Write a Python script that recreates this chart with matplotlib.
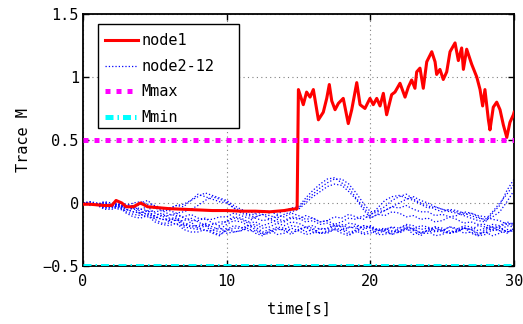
import numpy as np
import matplotlib
matplotlib.use('Agg')
import matplotlib.pyplot as plt
from matplotlib.patches import Rectangle

plt.rcParams['font.family'] = ['DejaVu Sans Mono']
plt.rcParams['font.size'] = 11

# node1 (red)
t_node1 = [0, 0.5, 1, 1.5, 2, 2.3, 2.7, 3.0, 3.5, 4.0, 4.5, 5, 6, 7, 8, 9,
           10, 11, 12, 13, 14, 14.5, 14.9, 14.99,
           15.33, 15.56, 15.80, 16.03, 16.38, 16.72, 16.96, 17.14, 17.31,
           17.54, 17.77, 18.11, 18.46, 18.70, 19.05, 19.28, 19.62, 19.97,
           20.20, 20.44, 20.67, 20.90, 21.13, 21.48, 21.71, 22.06, 22.41,
           22.64, 22.87, 23.10, 23.22, 23.45, 23.68, 23.92, 24.27, 24.50,
           24.61, 24.84, 25.07, 25.31, 25.54, 25.89, 26.12, 26.35, 26.47,
           26.70, 27.05, 27.40, 27.63, 27.81, 27.97, 28.21, 28.32, 28.55,
           28.79, 29.02, 29.25, 29.49, 29.71, 29.95, 30]
m_node1 = [-0.01, -0.01, -0.015, -0.02, -0.02, 0.02, 0.0, -0.03, -0.03, 0.0,
           -0.03, -0.035, -0.045, -0.05, -0.055, -0.06, -0.06, -0.065,
           -0.065, -0.07, -0.06, -0.05, -0.045, 0.90,
           0.78, 0.88, 0.84, 0.90, 0.66, 0.72, 0.83, 0.94, 0.81,
           0.74, 0.79, 0.83, 0.63, 0.74, 0.955, 0.78, 0.75, 0.83,
           0.78, 0.83, 0.77, 0.87, 0.70, 0.86, 0.88, 0.95, 0.84,
           0.92, 0.976, 0.91, 1.04, 1.07, 0.91, 1.12, 1.20, 1.12,
           1.02, 1.06, 0.98, 1.04, 1.20, 1.27, 1.13, 1.23, 1.06,
           1.22, 1.10, 1.00, 0.90, 0.77, 0.90, 0.66, 0.58, 0.76,
           0.80, 0.74, 0.62, 0.52, 0.64, 0.70, 0.72]

# node2-12 (blue), sampled every 0.5 s
t_nodes = np.arange(0, 30.5, 0.5)
m_node2 = [0, 0.0, -0.02, -0.04, -0.04, -0.02, -0.07, -0.09, -0.10, -0.08,
           -0.13, -0.16, -0.16, -0.13, -0.19, -0.20, -0.21, -0.18, -0.23, -0.25,
           -0.22, -0.20, -0.20, -0.18, -0.21, -0.24, -0.23, -0.20, -0.22, -0.25,
           -0.21, -0.19, -0.23, -0.24, -0.22, -0.20, -0.21, -0.25, -0.23, -0.18,
           -0.20, -0.24, -0.22, -0.19, -0.24, -0.21, -0.22, -0.26, -0.21, -0.19,
           -0.23, -0.24, -0.22, -0.20, -0.21, -0.25, -0.23, -0.19, -0.22, -0.24,
           -0.20]
m_node3 = [0, -0.02, -0.01, 0.0, -0.03, -0.05, -0.06, -0.04, -0.09, -0.11,
           -0.12, -0.10, -0.15, -0.17, -0.18, -0.15, -0.20, -0.22, -0.22, -0.19,
           -0.24, -0.23, -0.22, -0.18, -0.19, -0.23, -0.21, -0.25, -0.24, -0.20,
           -0.22, -0.19, -0.20, -0.24, -0.23, -0.21, -0.24, -0.26, -0.21, -0.18,
           -0.19, -0.22, -0.21, -0.25, -0.23, -0.20, -0.25, -0.23, -0.22, -0.19,
           -0.20, -0.24, -0.22, -0.19, -0.24, -0.26, -0.21, -0.19, -0.19, -0.23,
           -0.21]
m_node4 = [0, -0.01, -0.02, -0.05, -0.05, -0.03, -0.08, -0.11, -0.12, -0.10,
           -0.15, -0.17, -0.18, -0.16, -0.21, -0.23, -0.23, -0.21, -0.24, -0.26,
           -0.21, -0.18, -0.19, -0.22, -0.22, -0.25, -0.24, -0.21, -0.21, -0.18,
           -0.19, -0.23, -0.21, -0.24, -0.24, -0.21, -0.22, -0.19, -0.20, -0.24,
           -0.22, -0.25, -0.25, -0.22, -0.23, -0.20, -0.20, -0.24, -0.22, -0.26,
           -0.25, -0.22, -0.23, -0.20, -0.21, -0.24, -0.23, -0.26, -0.24, -0.21,
           -0.22]
m_node5 = [0, 0.01, -0.01, -0.03, -0.03, -0.01, -0.05, -0.07, -0.08, -0.06,
           -0.11, -0.13, -0.14, -0.12, -0.17, -0.19, -0.19, -0.17, -0.21, -0.23,
           -0.20, -0.23, -0.22, -0.20, -0.24, -0.26, -0.22, -0.19, -0.20, -0.23,
           -0.22, -0.25, -0.24, -0.20, -0.21, -0.18, -0.19, -0.23, -0.22, -0.25,
           -0.24, -0.21, -0.23, -0.25, -0.20, -0.18, -0.21, -0.24, -0.24, -0.20,
           -0.22, -0.19, -0.20, -0.24, -0.23, -0.26, -0.25, -0.21, -0.22, -0.18,
           -0.19]
m_node6 = [0, -0.01, -0.01, 0.01, -0.02, -0.04, -0.04, -0.02, -0.07, -0.09,
           -0.10, -0.08, -0.12, -0.14, -0.14, -0.12, -0.15, -0.18, -0.17, -0.15,
           -0.15, -0.12, -0.13, -0.16, -0.15, -0.18, -0.16, -0.13, -0.14, -0.11,
           -0.12, -0.15, -0.14, -0.17, -0.16, -0.19, -0.17, -0.20, -0.18, -0.21,
           -0.19, -0.22, -0.21, -0.19, -0.20, -0.17, -0.18, -0.21, -0.20, -0.23,
           -0.22, -0.19, -0.21, -0.18, -0.19, -0.22, -0.20, -0.17, -0.18, -0.15,
           -0.17]
m_node7 = [0, 0.0, -0.01, -0.02, -0.02, 0.0, -0.03, -0.05, -0.05, -0.03,
           -0.08, -0.10, -0.10, -0.08, -0.12, -0.14, -0.14, -0.12, -0.16, -0.18,
           -0.14, -0.11, -0.12, -0.15, -0.11, -0.09, -0.13, -0.15, -0.15, -0.12,
           -0.13, -0.10, -0.12, -0.15, -0.14, -0.17, -0.15, -0.12, -0.13, -0.10,
           -0.12, -0.09, -0.10, -0.07, -0.08, -0.11, -0.10, -0.13, -0.12, -0.15,
           -0.14, -0.11, -0.13, -0.16, -0.15, -0.17, -0.17, -0.20, -0.19, -0.16,
           -0.18]
m_node8 = [0, 0.01, 0.0, -0.02, -0.01, 0.01, -0.01, -0.03, 0.0, 0.02,
           -0.03, -0.05, -0.04, -0.02, -0.01, 0.02, 0.05, 0.08, 0.06, 0.04,
           0.02, -0.02, -0.05, -0.07, -0.08, -0.06, -0.07, -0.09, -0.06, -0.04,
           -0.03, 0.04, 0.10, 0.15, 0.19, 0.20, 0.16, 0.12, 0.04, -0.03,
           -0.10, -0.04, 0.02, 0.05, 0.06, 0.04, 0.02, -0.01, -0.04, -0.03,
           -0.05, -0.07, -0.08, -0.10, -0.12, -0.14, -0.15, -0.08, -0.02, 0.10,
           0.19]
m_node9 = [0, -0.01, -0.01, 0.01, 0.0, -0.02, -0.02, 0.0, 0.01, -0.01,
           -0.02, -0.04, -0.05, -0.02, -0.03, 0.02, 0.07, 0.05, 0.03, 0.01,
           0.0, -0.04, -0.06, -0.09, -0.09, -0.07, -0.08, -0.06, -0.07, -0.05,
           -0.04, 0.02, 0.07, 0.12, 0.16, 0.19, 0.19, 0.15, 0.08, 0.0,
           -0.07, -0.06, -0.03, 0.02, 0.05, 0.07, 0.03, 0.0, -0.02, -0.05,
           -0.07, -0.05, -0.06, -0.08, -0.10, -0.12, -0.13, -0.07, 0.0, 0.07,
           0.15]
m_node10 = [0, -0.01, -0.01, -0.03, -0.02, -0.01, -0.02, -0.04, -0.01, -0.03,
            -0.04, -0.06, -0.06, -0.08, -0.07, -0.05, -0.02, 0.02, 0.05, 0.03,
            0.01, -0.04, -0.08, -0.10, -0.11, -0.09, -0.10, -0.12, -0.09, -0.07,
            -0.05, 0.0, 0.05, 0.09, 0.13, 0.15, 0.14, 0.09, 0.03, -0.05,
            -0.12, -0.09, -0.06, -0.03, 0.0, 0.03, 0.05, 0.02, 0.0, -0.03,
            -0.05, -0.06, -0.07, -0.09, -0.08, -0.11, -0.14, -0.11, -0.07, 0.01,
            0.10]
m_node11 = [0, -0.01, -0.01, 0.0, -0.02, -0.03, -0.03, -0.02, -0.05, -0.06,
            -0.07, -0.06, -0.09, -0.10, -0.11, -0.09, -0.12, -0.13, -0.13, -0.11,
            -0.11, -0.08, -0.10, -0.12, -0.12, -0.14, -0.13, -0.10, -0.11, -0.08,
            -0.10, -0.13, -0.12, -0.15, -0.14, -0.11, -0.12, -0.09, -0.11, -0.13,
            -0.09, -0.07, -0.06, -0.03, -0.04, -0.02, -0.05, -0.07, -0.07, -0.10,
            -0.09, -0.11, -0.10, -0.07, -0.08, -0.10, -0.11, -0.13, -0.14, -0.17,
            -0.16]
m_node12 = [0, -0.01, -0.02, -0.04, -0.03, -0.01, -0.05, -0.07, -0.08, -0.06,
            -0.11, -0.13, -0.13, -0.11, -0.16, -0.18, -0.18, -0.16, -0.19, -0.21,
            -0.17, -0.14, -0.15, -0.18, -0.17, -0.20, -0.19, -0.16, -0.18, -0.15,
            -0.16, -0.19, -0.18, -0.21, -0.20, -0.17, -0.19, -0.16, -0.17, -0.20,
            -0.18, -0.21, -0.20, -0.23, -0.22, -0.19, -0.21, -0.18, -0.19, -0.22,
            -0.21, -0.24, -0.23, -0.20, -0.21, -0.18, -0.19, -0.22, -0.20, -0.23,
            -0.22]
m_nodes = [m_node2, m_node3, m_node4, m_node5, m_node6, m_node7, m_node8,
           m_node9, m_node10, m_node11, m_node12]

m_max = 0.5
m_min = -0.5
x_ticks = [0, 10, 20, 30]
y_ticks = [-0.5, 0, 0.5, 1, 1.5]
y_ticklabels = ['\u22120.5', '0', '0.5', '1', '1.5']

fig = plt.figure(figsize=(5.23, 3.24), dpi=100)
ax = fig.add_axes([0.1587, 0.179, 0.8243, 0.778])

for i, m in enumerate(m_nodes):
    ax.plot(t_nodes, m, color='#0000ff', linestyle=':', linewidth=0.9,
            label='node2-12' if i == 0 else None, zorder=2)
ax.plot(t_node1, m_node1, color='#ff0000', linewidth=2.2, label='node1',
        zorder=3)
ax.plot([0, 30], [m_max, m_max], color='#ff00ff', linewidth=3.6,
        linestyle=(0, (1, 1.2)), label='Mmax', zorder=4)
ax.plot([0, 30], [m_min, m_min], color='#00ffff', linewidth=3.6,
        linestyle=(0, (1.6, 0.8, 0.3, 0.8)), label='Mmin', zorder=4)

ax.set_xlim(0, 30)
ax.set_ylim(-0.5, 1.5)
ax.set_xticks(x_ticks)
ax.set_yticks(y_ticks)
ax.set_yticklabels(y_ticklabels)
ax.tick_params(direction='in', top=True, right=True, length=4, width=1)
ax.tick_params(axis='x', pad=6)
ax.tick_params(axis='y', pad=3)
ax.grid(True, color='#808080', linestyle=(0, (1, 3)), linewidth=0.8)
for s in ax.spines.values():
    s.set_linewidth(1.3)
ax.set_xlabel('time[s]', labelpad=9)
ax.set_ylabel('Trace M', labelpad=8)

handles, labels = ax.get_legend_handles_labels()
order = [labels.index(n) for n in ['node1', 'node2-12', 'Mmax', 'Mmin']]
leg = ax.legend([handles[k] for k in order], [labels[k] for k in order],
                loc='upper left', bbox_to_anchor=(0.05, 0.923),
                frameon=False, borderaxespad=0, borderpad=0,
                handlelength=2.2, handletextpad=0.2, labelspacing=0.69)
leg.set_zorder(6)
ax.add_patch(Rectangle((0.0348, 0.548), 0.327, 0.412, transform=ax.transAxes,
                       facecolor='white', edgecolor='black', linewidth=1.0,
                       zorder=5))

fig.savefig('out.png', dpi=100)
